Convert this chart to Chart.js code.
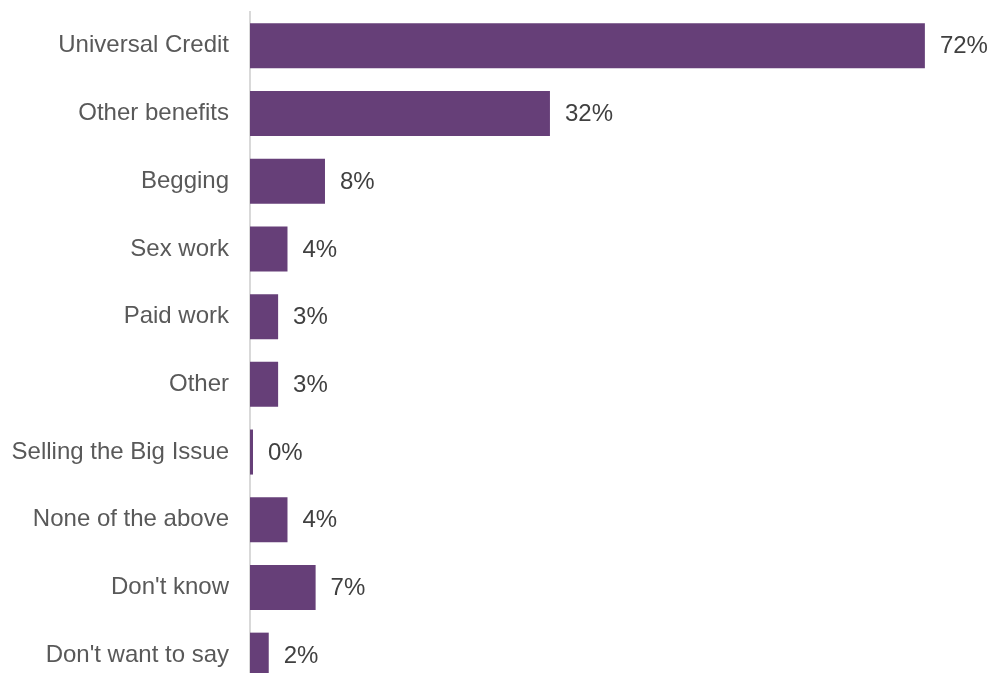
<!DOCTYPE html>
<html>
<head>
<meta charset="utf-8">
<script src="https://cdn.jsdelivr.net/npm/chart.js@4/dist/chart.umd.min.js"></script>
<style>
  html, body { margin: 0; padding: 0; background: #ffffff; overflow: hidden; }
  #wrap { position: relative; width: 991px; height: 673px; overflow: hidden; }
  #inner { position: relative; width: 991px; height: 689px; }
</style>
</head>
<body>
<div id="wrap"><div id="inner"><canvas id="chart"></canvas></div></div>
<script>
// Sources of income (% of respondents)
const categories = [
  'Universal Credit',
  'Other benefits',
  'Begging',
  'Sex work',
  'Paid work',
  'Other',
  'Selling the Big Issue',
  'None of the above',
  "Don't know",
  "Don't want to say"
];
const percentages = [72, 32, 8, 4, 3, 3, 0, 4, 7, 2];

const FONT = '"Liberation Sans", Arial, sans-serif';

// Percentage labels at the end of each bar
const valueLabels = {
  id: 'valueLabels',
  afterDatasetsDraw(chart) {
    const ctx = chart.ctx;
    const meta = chart.getDatasetMeta(0);
    ctx.save();
    ctx.font = '24px ' + FONT;
    ctx.fillStyle = '#404040';
    ctx.textAlign = 'left';
    ctx.textBaseline = 'middle';
    meta.data.forEach((bar, i) => {
      const v = chart.data.datasets[0].data[i];
      ctx.fillText(v + '%', bar.x + 15, bar.y + 1);
    });
    ctx.restore();
  }
};

new Chart(document.getElementById('chart'), {
  type: 'bar',
  data: {
    labels: categories,
    datasets: [{
      data: percentages,
      backgroundColor: '#663F78',
      borderWidth: 0,
      minBarLength: 3,
      categoryPercentage: 1,
      barPercentage: 0.665
    }]
  },
  options: {
    indexAxis: 'y',
    responsive: true,
    maintainAspectRatio: false,
    animation: false,
    layout: { padding: { top: 12, right: 38, bottom: 0, left: 0 } },
    plugins: { legend: { display: false }, tooltip: { enabled: false } },
    scales: {
      x: {
        display: false,
        min: 0,
        max: 75
      },
      y: {
        afterFit(scale) {
          scale.width = 250;
          scale.paddingTop = 0;
          scale.paddingBottom = 0;
        },
        grid: { display: false, drawTicks: false },
        border: { display: true, color: '#d9d9d9', width: 2 },
        ticks: {
          padding: 21,
          color: '#595959',
          font: { family: FONT, size: 24 }
        }
      }
    }
  },
  plugins: [valueLabels]
});
</script>
</body>
</html>
